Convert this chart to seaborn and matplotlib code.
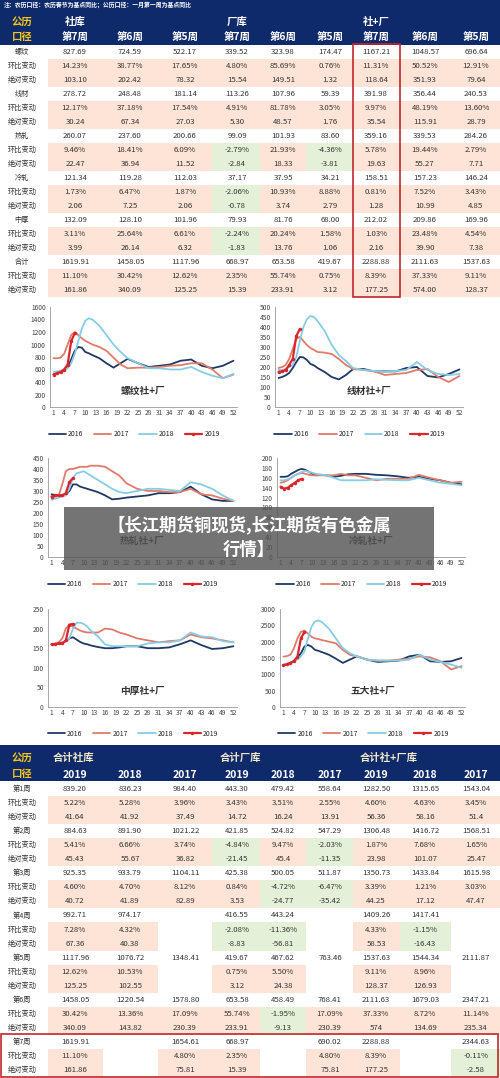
import matplotlib
matplotlib.use("Agg")
import matplotlib.pyplot as plt
import seaborn as sns
import pandas as pd
from matplotlib.patches import Rectangle

sns.set_style("white")
plt.rcParams['font.family'] = ['Noto Sans CJK SC', 'DejaVu Sans']

# ---------------- data: top table ----------------
top_groups = ["社库", "厂库", "社+厂"]
top_cols = ["第7周", "第6周", "第5周"] * 3
top_labels = ["螺纹", "环比变动", "绝对变动", "线材", "环比变动", "绝对变动",
              "热轧", "环比变动", "绝对变动", "冷轧", "环比变动", "绝对变动",
              "中厚", "环比变动", "绝对变动", "合计", "环比变动", "绝对变动"]
top_rows = [
    ["827.69", "724.59", "522.17", "339.52", "323.98", "174.47", "1167.21", "1048.57", "696.64"],
    ["14.23%", "38.77%", "17.65%", "4.80%", "85.69%", "0.76%", "11.31%", "50.52%", "12.91%"],
    ["103.10", "202.42", "78.32", "15.54", "149.51", "1.32", "118.64", "351.93", "79.64"],
    ["278.72", "248.48", "181.14", "113.26", "107.96", "59.39", "391.98", "356.44", "240.53"],
    ["12.17%", "37.18%", "17.54%", "4.91%", "81.78%", "3.05%", "9.97%", "48.19%", "13.60%"],
    ["30.24", "67.34", "27.03", "5.30", "48.57", "1.76", "35.54", "115.91", "28.79"],
    ["260.07", "237.60", "200.66", "99.09", "101.93", "83.60", "359.16", "339.53", "284.26"],
    ["9.46%", "18.41%", "6.09%", "-2.79%", "21.93%", "-4.36%", "5.78%", "19.44%", "2.79%"],
    ["22.47", "36.94", "11.52", "-2.84", "18.33", "-3.81", "19.63", "55.27", "7.71"],
    ["121.34", "119.28", "112.03", "37.17", "37.95", "34.21", "158.51", "157.23", "146.24"],
    ["1.73%", "6.47%", "1.87%", "-2.06%", "10.93%", "8.88%", "0.81%", "7.52%", "3.43%"],
    ["2.06", "7.25", "2.06", "-0.78", "3.74", "2.79", "1.28", "10.99", "4.85"],
    ["132.09", "128.10", "101.96", "79.93", "81.76", "68.00", "212.02", "209.86", "169.96"],
    ["3.11%", "25.64%", "6.61%", "-2.24%", "20.24%", "1.58%", "1.03%", "23.48%", "4.54%"],
    ["3.99", "26.14", "6.32", "-1.83", "13.76", "1.06", "2.16", "39.90", "7.38"],
    ["1619.91", "1458.05", "1117.96", "668.97", "653.58", "419.67", "2288.88", "2111.63", "1537.63"],
    ["11.10%", "30.42%", "12.62%", "2.35%", "55.74%", "0.75%", "8.39%", "37.33%", "9.11%"],
    ["161.86", "340.09", "125.25", "15.39", "233.91", "3.12", "177.25", "574.00", "128.37"],
]

# ---------------- data: bottom table ----------------
bot_groups = ["合计社库", "合计厂库", "合计社+厂库"]
bot_cols = ["2019", "2018", "2017"] * 3
bot_labels = []
for w in range(1, 8):
    bot_labels += [f"第{w}周", "环比变动", "绝对变动"]
bot_rows = [
    ["839.20", "836.23", "984.40", "443.30", "479.42", "558.64", "1282.50", "1315.65", "1543.04"],
    ["5.22%", "5.28%", "3.96%", "3.43%", "3.51%", "2.55%", "4.60%", "4.63%", "3.45%"],
    ["41.64", "41.92", "37.49", "14.72", "16.24", "13.91", "56.36", "58.16", "51.4"],
    ["884.63", "891.90", "1021.22", "421.85", "524.82", "547.29", "1306.48", "1416.72", "1568.51"],
    ["5.41%", "6.66%", "3.74%", "-4.84%", "9.47%", "-2.03%", "1.87%", "7.68%", "1.65%"],
    ["45.43", "55.67", "36.82", "-21.45", "45.4", "-11.35", "23.98", "101.07", "25.47"],
    ["925.35", "933.79", "1104.11", "425.38", "500.05", "511.87", "1350.73", "1433.84", "1615.98"],
    ["4.60%", "4.70%", "8.12%", "0.84%", "-4.72%", "-6.47%", "3.39%", "1.21%", "3.03%"],
    ["40.72", "41.89", "82.89", "3.53", "-24.77", "-35.42", "44.25", "17.12", "47.47"],
    ["992.71", "974.17", "", "416.55", "443.24", "", "1409.26", "1417.41", ""],
    ["7.28%", "4.32%", "", "-2.08%", "-11.36%", "", "4.33%", "-1.15%", ""],
    ["67.36", "40.38", "", "-8.83", "-56.81", "", "58.53", "-16.43", ""],
    ["1117.96", "1076.72", "1348.41", "419.67", "467.62", "763.46", "1537.63", "1544.34", "2111.87"],
    ["12.62%", "10.53%", "", "0.75%", "5.50%", "", "9.11%", "8.96%", ""],
    ["125.25", "102.55", "", "3.12", "24.38", "", "128.37", "126.93", ""],
    ["1458.05", "1220.54", "1578.80", "653.58", "458.49", "768.41", "2111.63", "1679.03", "2347.21"],
    ["30.42%", "13.36%", "17.09%", "55.74%", "-1.95%", "17.09%", "37.33%", "8.72%", "11.14%"],
    ["340.09", "143.82", "230.39", "233.91", "-9.13", "230.39", "574", "134.69", "235.34"],
    ["1619.91", "", "1654.61", "668.97", "", "690.02", "2288.88", "", "2344.63"],
    ["11.10%", "", "4.80%", "2.35%", "", "4.80%", "8.39%", "", "-0.11%"],
    ["161.86", "", "75.81", "15.39", "", "75.81", "177.25", "", "-2.58"],
]

# ---------------- data: line charts ----------------
weeks = [1, 2, 3, 4, 5, 6, 7, 8, 9, 10, 11, 12, 14, 16, 18, 20, 22, 25, 28, 31, 34, 37, 40, 43, 46, 49, 52]
weeks_2019 = [1, 2, 3, 4, 5, 6, 7]
chart_titles = ["螺纹社+厂", "线材社+厂", "热轧社+厂", "冷轧社+厂", "中厚社+厂", "五大社+厂"]
s2016 = [
    [520, 540, 560, 580, 640, 760, 900, 960, 950, 880, 860, 830, 780, 700, 630, 700, 770, 700, 640, 660, 680, 740, 760, 660, 620, 660, 740],
    [145, 150, 158, 170, 195, 225, 250, 248, 235, 215, 208, 195, 175, 150, 138, 160, 190, 190, 178, 178, 178, 195, 200, 155, 148, 165, 188],
    [285, 282, 280, 280, 285, 300, 330, 330, 320, 315, 310, 305, 295, 280, 262, 265, 270, 275, 280, 290, 290, 295, 320, 285, 262, 255, 255],
    [162, 162, 163, 168, 172, 176, 178, 176, 172, 168, 165, 166, 165, 162, 164, 167, 168, 168, 166, 165, 163, 160, 162, 158, 155, 150, 147],
    [160, 160, 162, 164, 168, 175, 178, 172, 166, 162, 160, 157, 153, 150, 150, 152, 155, 155, 150, 150, 152, 160, 170, 158, 148, 150, 155],
    [1280, 1300, 1350, 1400, 1500, 1650, 1850, 1900, 1850, 1750, 1720, 1680, 1600, 1480, 1350, 1450, 1550, 1450, 1380, 1400, 1420, 1550, 1600, 1400, 1380, 1400, 1500],
]
s2017 = [
    [780, 780, 790, 850, 1000, 1150, 1200, 1150, 1100, 1060, 1030, 1000, 960, 900, 790, 680, 620, 630, 630, 640, 660, 670, 700, 700, 600, 460, 520],
    [195, 200, 210, 240, 290, 340, 350, 330, 310, 295, 285, 275, 272, 265, 240, 210, 190, 185, 178, 160, 165, 170, 185, 190, 150, 125, 155],
    [270, 275, 280, 330, 390, 400, 400, 405, 410, 410, 410, 415, 415, 410, 390, 370, 335, 310, 300, 300, 295, 295, 310, 285, 280, 265, 255],
    [150, 152, 155, 160, 165, 168, 170, 168, 166, 165, 165, 165, 165, 165, 168, 165, 165, 160, 155, 158, 158, 158, 166, 160, 155, 150, 152],
    [160, 162, 165, 175, 200, 210, 205, 200, 195, 192, 190, 190, 190, 200, 198, 190, 185, 175, 170, 165, 168, 170, 185, 178, 175, 170, 165],
    [1540, 1560, 1600, 1800, 2100, 2300, 2340, 2250, 2150, 2100, 2080, 2050, 2000, 1950, 1750, 1600, 1550, 1450, 1420, 1420, 1450, 1480, 1550, 1520, 1400, 1150, 1250],
]
s2018 = [
    [560, 570, 580, 600, 620, 700, 850, 1050, 1250, 1380, 1420, 1400, 1300, 1150, 1000, 880, 780, 700, 620, 620, 600, 600, 640, 560, 500, 460, 530],
    [185, 185, 190, 200, 210, 250, 330, 400, 440, 455, 450, 430, 380, 310, 260, 230, 195, 185, 180, 175, 180, 185, 225, 185, 165, 160, 165],
    [260, 265, 270, 275, 280, 310, 360, 380, 385, 390, 380, 370, 350, 330, 310, 295, 290, 300, 310, 310, 305, 300, 340, 330, 310, 280, 255],
    [155, 155, 157, 160, 165, 168, 172, 174, 172, 170, 168, 167, 165, 160, 155, 155, 155, 155, 157, 156, 155, 155, 160, 155, 150, 148, 145],
    [160, 160, 162, 165, 168, 175, 200, 215, 215, 212, 205, 195, 180, 160, 155, 155, 155, 155, 162, 165, 165, 170, 190, 180, 178, 168, 165],
    [1300, 1320, 1350, 1400, 1450, 1550, 1700, 2100, 2450, 2620, 2650, 2600, 2400, 2100, 1800, 1650, 1550, 1450, 1420, 1420, 1420, 1450, 1600, 1450, 1380, 1300, 1200],
]
s2019 = [
    [520, 540, 560, 600, 680, 1050, 1180],
    [175, 178, 185, 210, 240, 355, 390],
    [275, 280, 280, 280, 290, 340, 359],
    [142, 138, 140, 145, 150, 155, 158],
    [160, 160, 162, 162, 170, 210, 212],
    [1280, 1310, 1350, 1410, 1540, 2110, 2290],
]
y_max = [1600, 500, 450, 200, 250, 3000]
y_step = [200, 50, 50, 20, 50, 500]

# ---------------- figure ----------------
W, H = 500, 1078
fig = plt.figure(figsize=(5, 10.78), dpi=100)
fig.patch.set_facecolor("white")
bg = fig.add_axes([0, 0, 1, 1])
bg.set_xlim(0, W); bg.set_ylim(H, 0); bg.axis("off")

NAVY = "#0f2a6b"
SALMON = "#fde4d6"
GREEN = "#e4f0d8"
TXT = "#333333"
col_x = [75, 130, 185, 237, 283, 330, 376, 425, 476]
col_edges = [48, 103, 158, 212, 260, 306, 353, 400, 451, 500]


def draw_table(rows, labels, y0, rh, blank_white):
    for i, (lab, row) in enumerate(zip(labels, rows)):
        yc = y0 + rh * i
        is_chg = (i % 3) != 0
        bg.text(22, yc, lab, ha="center", va="center", fontsize=5.2, color=TXT)
        for j, v in enumerate(row):
            if is_chg and v != "":
                c = GREEN if v.startswith("-") else SALMON
                bg.add_patch(Rectangle((col_edges[j], yc - rh / 2), col_edges[j + 1] - col_edges[j],
                                       rh, facecolor=c, edgecolor="none"))
            if v != "":
                bg.text(col_x[j], yc, v, ha="center", va="center", fontsize=5.6, color=TXT)


# top table
bg.add_patch(Rectangle((0, 0), W, 45, facecolor=NAVY, edgecolor="none"))
bg.text(4, 5, "注：农历口径：农历春节为基点同比；公历口径：一月第一周为基点同比",
        ha="left", va="center", fontsize=4.2, color="white", fontweight="bold")
bg.text(22, 22, "公历", ha="center", va="center", fontsize=7.5, color="#f5c518", fontweight="bold")
bg.text(22, 37, "口径", ha="center", va="center", fontsize=7.5, color="#f5c518", fontweight="bold")
for g, x in zip(top_groups, [75, 237, 376]):
    bg.text(x, 22, g, ha="center", va="center", fontsize=7.5, color="white", fontweight="bold")
for c, x in zip(top_cols, col_x):
    bg.text(x, 37, c, ha="center", va="center", fontsize=7.5, color="white", fontweight="bold")
draw_table(top_rows, top_labels, 52, 14.0, False)
bg.add_patch(Rectangle((353, 44), 47, 253, facecolor="none", edgecolor="#c0282d", lw=1.2))

# bottom table
bg.add_patch(Rectangle((0, 745), W, 36, facecolor=NAVY, edgecolor="none"))
bg.text(22, 758, "公历", ha="center", va="center", fontsize=7.5, color="#f5c518", fontweight="bold")
bg.text(22, 774, "口径", ha="center", va="center", fontsize=7.5, color="#f5c518", fontweight="bold")
for g, x in zip(bot_groups, [73, 240, 389]):
    bg.text(x, 758, g, ha="center", va="center", fontsize=7.5, color="#f3e9c8", fontweight="bold")
for c, x in zip(bot_cols, col_x):
    bg.text(x, 775, c, ha="center", va="center", fontsize=7.5, color="white", fontweight="bold")
draw_table(bot_rows, bot_labels, 789, 14.05, True)
bg.add_patch(Rectangle((1, 1034), 497, 43, facecolor="none", edgecolor="#c0282d", lw=1.2))

# ---------------- line charts ----------------
pal = {"2016": "#1f3864", "2017": "#e07a6a", "2018": "#86cde3", "2019": "#d9262c"}
panels = [(50, 237, 307, 407), (275, 463, 307, 407),
          (48, 237, 458, 557), (277, 465, 458, 557),
          (48, 237, 609, 707), (280, 465, 609, 707)]
for k, (x0, x1, yt, yb) in enumerate(panels):
    ax = fig.add_axes([x0 / W, 1 - yb / H, (x1 - x0) / W, (yb - yt) / H])
    sns.lineplot(x=weeks, y=s2016[k], ax=ax, color=pal["2016"], lw=1.3, label="2016")
    sns.lineplot(x=weeks, y=s2017[k], ax=ax, color=pal["2017"], lw=1.3, label="2017")
    sns.lineplot(x=weeks, y=s2018[k], ax=ax, color=pal["2018"], lw=1.3, label="2018")
    sns.lineplot(x=weeks_2019, y=s2019[k], ax=ax, color=pal["2019"], lw=1.6, marker="o",
                 markersize=2.5, markeredgewidth=0, label="2019")
    ax.set_xlim(0, 53)
    ax.set_ylim(0, y_max[k])
    ax.set_xticks(list(range(1, 53, 3)))
    ax.set_yticks(list(range(0, y_max[k] + 1, y_step[k])))
    ax.tick_params(axis="both", labelsize=4.8, colors="#444444", length=1.5, pad=1.5)
    ax.tick_params(axis="x", direction="in")
    for s in ["top", "right"]:
        ax.spines[s].set_visible(False)
    for s in ["left", "bottom"]:
        ax.spines[s].set_color("#999999"); ax.spines[s].set_linewidth(0.6)
    ax.set_facecolor("none")
    ax.text(0.5, 0.16, chart_titles[k], transform=ax.transAxes, ha="center", va="center",
            fontsize=7, color="#333333", fontweight="bold")
    ax.legend(loc="upper center", bbox_to_anchor=(0.45, -0.17), ncol=4, frameon=False,
              fontsize=5, handlelength=2.5, columnspacing=1.5, handletextpad=0.3)

# ---------------- banner overlay ----------------
top = fig.add_axes([0, 0, 1, 1])
top.set_xlim(0, W); top.set_ylim(H, 0); top.axis("off"); top.patch.set_alpha(0)
top.add_patch(Rectangle((64, 507), 370, 63, facecolor="#555555", alpha=0.82, edgecolor="none"))
top.text(249, 525, "【长江期货铜现货,长江期货有色金属", ha="center", va="center",
         fontsize=12.5, color="white", fontweight="bold")
top.text(249, 550, "行情】", ha="center", va="center", fontsize=12.5, color="white", fontweight="bold")

fig.savefig("out.png", dpi=100)
